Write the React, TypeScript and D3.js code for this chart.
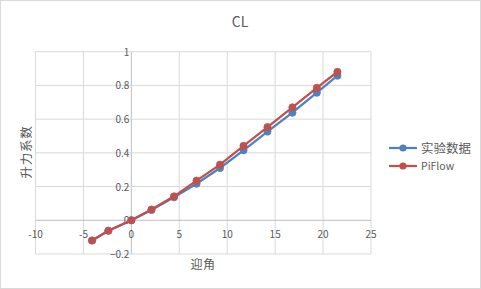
import React from "react";
import * as d3 from "d3";

const xAngles = [-4.1, -2.4, 0, 2.1, 4.45, 6.8, 9.25, 11.7, 14.2, 16.8, 19.35, 21.5];
const expData = [-0.12, -0.062, 0, 0.061, 0.136, 0.217, 0.31, 0.415, 0.526, 0.638, 0.757, 0.858];
const piflowData = [-0.12, -0.062, 0, 0.064, 0.142, 0.235, 0.33, 0.441, 0.553, 0.67, 0.786, 0.881];
const xTicks = [-10, -5, 0, 5, 10, 15, 20, 25];
const yTicks = [-0.2, 0, 0.2, 0.4, 0.6, 0.8, 1];
const seriesNames = ["实验数据", "PiFlow"];
const colors = ["#4F81BD", "#C0504D"];

export default function App() {
  const W = 481, H = 289;
  const x = d3.scaleLinear().domain([-10, 25]).range([35.5, 371]);
  const y = d3.scaleLinear().domain([-0.2, 1]).range([254, 51.7]);
  const line = d3.line<number>().x((_, i) => x(xAngles[i])).y((d) => y(d));
  const font = "'Microsoft YaHei', 'Noto Sans CJK SC', sans-serif";
  const series = [expData, piflowData];
  return (
    <div style={{ position: "fixed", left: 0, top: 0 }}>
      <svg width={W} height={H} style={{ display: "block", fontFamily: font }}>
        <rect x={0.5} y={0.5} width={W - 1} height={H - 1} fill="#fff" stroke="#d9d9d9" />
        <text x={240} y={27} textAnchor="middle" fontSize={14} fill="#595959">CL</text>
        {xTicks.map((t) => (
          <line key={"gx" + t} x1={x(t)} x2={x(t)} y1={y(1)} y2={y(-0.2)} stroke={t === 0 ? "#bfbfbf" : "#d9d9d9"} strokeWidth={1} />
        ))}
        {yTicks.map((t) => (
          <line key={"gy" + t} x1={x(-10)} x2={x(25)} y1={y(t)} y2={y(t)} stroke={t === 0 ? "#bfbfbf" : "#d9d9d9"} strokeWidth={1} />
        ))}
        {yTicks.map((t) => (
          <text key={"ty" + t} x={x(0) - 2} y={y(t) + 4} textAnchor="end" fontSize={10} fill="#595959">{t === 0 ? "0" : d3.format("")(t)}</text>
        ))}
        {xTicks.map((t) => (
          <text key={"tx" + t} x={x(t)} y={y(0) + 18} textAnchor="middle" fontSize={10} fill="#595959">{t}</text>
        ))}
        <text x={203} y={269} textAnchor="middle" fontSize={12} letterSpacing={0.5} fill="#595959">迎角</text>
        <text transform={`translate(31,152) rotate(-90)`} textAnchor="middle" fontSize={12.5} letterSpacing={0.8} fill="#595959">升力系数</text>
        {series.map((s, k) => (
          <g key={"s" + k}>
            <path d={line(s) || ""} fill="none" stroke={colors[k]} strokeWidth={2.25} />
            {s.map((v, i) => (
              <circle key={i} cx={x(xAngles[i])} cy={y(v)} r={3.6} fill={colors[k]} stroke={colors[k]} strokeWidth={0.75} />
            ))}
          </g>
        ))}
        {seriesNames.map((n, k) => (
          <g key={"l" + k} transform={`translate(0,${148 + k * 18})`}>
            <line x1={389} x2={417} y1={0} y2={0} stroke={colors[k]} strokeWidth={2.25} />
            <circle cx={403} cy={0} r={3.6} fill={colors[k]} />
            <text x={421} y={k === 0 ? 5 : 4} fontSize={k === 0 ? 12.5 : 10.5} fill="#595959">{n}</text>
          </g>
        ))}
      </svg>
    </div>
  );
}
